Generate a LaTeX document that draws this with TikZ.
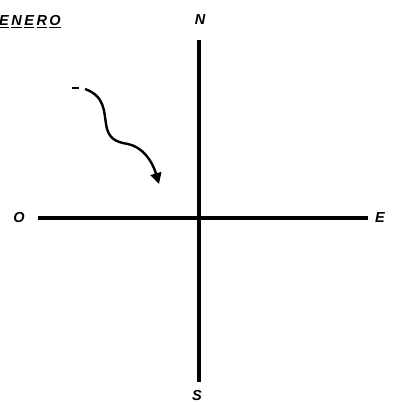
\documentclass[tikz,border=0pt]{standalone}
\usepackage{fontspec}
\setmainfont{Liberation Sans}
\usetikzlibrary{arrows.meta}
\begin{document}
\begin{tikzpicture}[x=1pt,y=-1pt,
  axis/.style={line width=3.6pt},
  lbl/.style={font=\itshape\bfseries\fontsize{14.5}{14.5}\selectfont, inner sep=0pt},
  wavy/.style={line width=2.4pt, -{Triangle[length=11pt,width=11pt]}}]
\useasboundingbox (0,0) rectangle (395,405);
\coordinate (ntop) at (199,40);
\coordinate (sbot) at (199,382);
\coordinate (wend) at (38,218);
\coordinate (eend) at (368,218);
\draw[axis] (ntop) -- (sbot);
\draw[axis] (wend) -- (eend);
\node[lbl] (N) at (200,20) {N};
\node[lbl] (S) at (197,396) {S};
\node[lbl] (O) at (19,218) {O};
\node[lbl] (E) at (380,218) {E};
\node[lbl, anchor=west] (title) at (-1,22) {\underline{E}\kern2.5pt\underline{N}\kern2.5pt\underline{E}\kern2.5pt\underline{R}\kern2.5pt\underline{O}};
\coordinate (dash1) at (72,88);
\coordinate (dash2) at (79,88);
\draw[line width=2pt] (dash1) -- (dash2);
\coordinate (cs) at (85,89);
\coordinate (ce) at (159,184);
\draw[wavy] (cs) .. controls (105,96) and (104,112) .. (106,124)
  .. controls (108,138) and (115,142) .. (128,144)
  .. controls (142,147) and (152,160) .. (ce);
\end{tikzpicture}
\end{document}
